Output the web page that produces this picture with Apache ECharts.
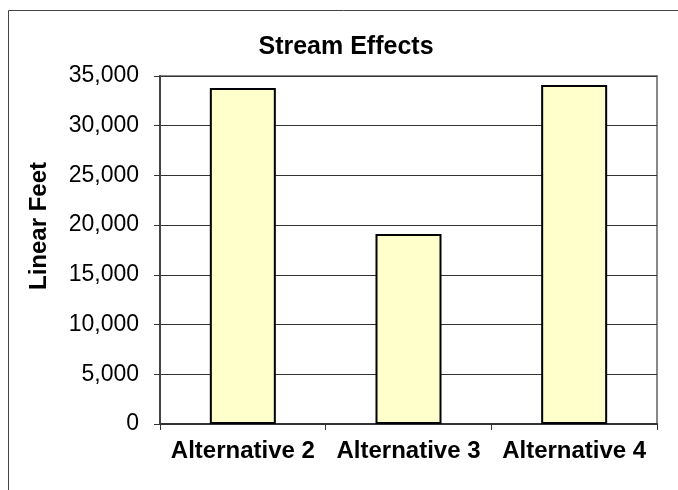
<!DOCTYPE html>
<html>
<head>
<meta charset="utf-8">
<script src="https://cdn.jsdelivr.net/npm/echarts@6/dist/echarts.min.js"></script>
<style>
html,body{margin:0;padding:0;background:#fff;}
#chart{width:678px;height:490px;}
</style>
</head>
<body>
<div id="chart"></div>
<script>
const titleText = "Stream Effects";
const yAxisName = "Linear Feet";
const categories = ["Alternative 2", "Alternative 3", "Alternative 4"];
const values = [33800, 19100, 34100];
const yMin = 0, yMax = 35000, yStep = 5000;

const chart = echarts.init(document.getElementById('chart'), null, {renderer: 'canvas'});
const FONT = 'Arial, "Liberation Sans", sans-serif';
chart.setOption({
  animation: false,
  backgroundColor: '#ffffff',
  title: {
    text: titleText,
    left: 341, top: 30, textAlign: 'center',
    textStyle: {fontFamily: FONT, fontSize: 25, fontWeight: 'bold', color: '#000'}
  },
  graphic: [{
    type: 'rect', silent: true, z: 0,
    shape: {x: 8.5, y: 10.5, width: 720, height: 520},
    style: {fill: 'none', stroke: '#444', lineWidth: 1}
  }, {
    type: 'text', silent: true, z: 10,
    x: 39, y: 226, rotation: Math.PI / 2,
    style: {text: yAxisName, fontFamily: FONT, fontSize: 24, fontWeight: 'bold', fill: '#000',
      align: 'center', verticalAlign: 'middle'}
  }],
  grid: {left: 160, top: 76, width: 497, height: 348, show: true, borderColor: '#888', borderWidth: 2, backgroundColor: 'transparent'},
  xAxis: {
    type: 'category', data: categories,
    axisLine: {lineStyle: {color: '#333', width: 2}},
    axisTick: {show: true, alignWithLabel: false, length: 6, lineStyle: {color: '#333', width: 1}},
    axisLabel: {fontFamily: FONT, fontSize: 24, fontWeight: 'bold', color: '#000', margin: 15, interval: 0}
  },
  yAxis: {
    type: 'value', min: yMin, max: yMax, interval: yStep,
    axisLine: {show: true, lineStyle: {color: '#444', width: 2}},
    axisTick: {show: true, length: 6, lineStyle: {color: '#333'}},
    axisLabel: {fontFamily: FONT, fontSize: 23, color: '#000', margin: 21,
      formatter: v => v.toLocaleString('en-US')},
    splitLine: {show: true, lineStyle: {color: '#333', width: 1}}
  },
  series: [{
    type: 'bar', data: values, barWidth: 66,
    itemStyle: {color: '#FFFFCC', borderColor: '#000', borderWidth: 2}
  }]
});
</script>
</body>
</html>
